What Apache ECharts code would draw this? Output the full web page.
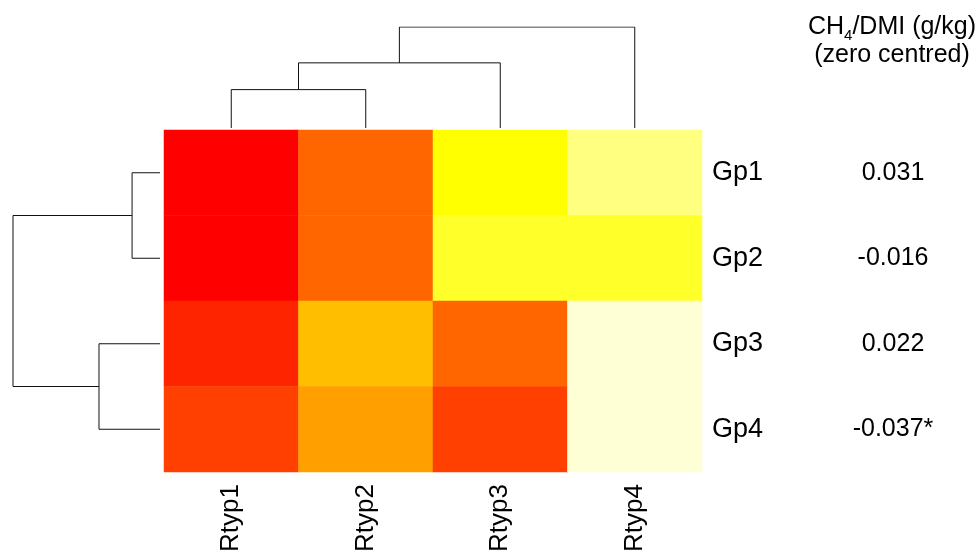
<!DOCTYPE html>
<html>
<head>
<meta charset="utf-8">
<script src="https://cdn.jsdelivr.net/npm/echarts@6/dist/echarts.min.js"></script>
<style>
  html,body{margin:0;padding:0;background:#fff;}
  #chart{width:979px;height:556px;}
</style>
</head>
<body>
<div id="chart"></div>
<script>
// columns / rows of the heat map
var colNames=["Rtyp1","Rtyp2","Rtyp3","Rtyp4"];
var rowNames=["Gp1","Gp2","Gp3","Gp4"];
var rowEffects=["0.031","-0.016","0.022","-0.037*"];

// colour bin (0 = red ... 11 = pale yellow)
var gp1=[0,3,8,10];
var gp2=[0,3,9,9];
var gp3=[1,6,3,11];
var gp4=[2,5,2,11];

// heat.colors(12)
var palette=["#FF0000","#FF2400","#FF4000","#FF6600","#FF8000","#FF9F00",
             "#FFBF00","#FFDF00","#FFFF00","#FFFF2A","#FFFF80","#FFFFD5"];

// dendrograms, hclust style: negative = leaf, positive = earlier merge; last = height
var colMerge=[[-1,-2,0.38],[1,-3,0.645],[2,-4,1.0]];
var rowMerge=[[-1,-2,0.19],[-3,-4,0.415],[1,2,1.0]];

var font="Liberation Sans, Arial, sans-serif";

var cells=[];
[gp1,gp2,gp3,gp4].forEach(function(r,j){
  r.forEach(function(v,i){cells.push([i,j,v]);});
});

// build U shaped links of a dendrogram
function treeSeries(merge,xi,yi,vertical){
  var nodes=[];
  var out=[];
  function node(k){
    if(k<0) return {p:-k,h:0};
    return nodes[k-1];
  }
  merge.forEach(function(m){
    var a=node(m[0]),b=node(m[1]),h=m[2];
    var pts=[[a.p,a.h],[a.p,h],[b.p,h],[b.p,b.h]];
    if(!vertical) pts=pts.map(function(q){return [q[1],q[0]];});
    out.push({
      type:"line",xAxisIndex:xi,yAxisIndex:yi,data:pts,
      symbol:"none",silent:true,animation:false,
      lineStyle:{color:"#111",width:1}
    });
    nodes.push({p:(a.p+b.p)/2,h:h});
  });
  return out;
}

var chart=echarts.init(document.getElementById("chart"));

var option={
  backgroundColor:"#fff",
  animation:false,
  title:{
    left:887,top:8,textAlign:"center",
    text:"{n|CH}{s|4}{n|/DMI (g/kg)}\n{n|(zero centred)}",
    textStyle:{
      fontWeight:"normal",
      rich:{
        n:{fontFamily:font,fontSize:25,fontWeight:"normal",color:"#000",lineHeight:28},
        s:{fontFamily:font,fontSize:15,fontWeight:"normal",color:"#000",lineHeight:14,verticalAlign:"bottom",padding:[0,0,-2,0]}
      }
    }
  },
  grid:[
    {left:164,top:130,width:538,height:342},
    {left:164,top:27,width:538,height:101},
    {left:13,top:130,width:147,height:342}
  ],
  xAxis:[
    {type:"category",gridIndex:0,data:colNames,
     axisLine:{show:false},axisTick:{show:false},splitLine:{show:false},
     axisLabel:{rotate:90,margin:12,fontSize:26,fontFamily:font,color:"#000"}},
    {type:"value",gridIndex:1,min:0.5,max:4.5,show:false},
    {type:"value",gridIndex:2,min:0,max:1,inverse:true,show:false}
  ],
  yAxis:[
    {type:"category",gridIndex:0,data:rowNames,inverse:true,position:"right",
     axisLine:{show:false},axisTick:{show:false},splitLine:{show:false},
     axisLabel:{margin:10,fontSize:27,fontFamily:font,color:"#000"}},
    {type:"category",gridIndex:0,data:rowEffects,inverse:true,position:"right",
     axisLine:{show:false},axisTick:{show:false},splitLine:{show:false},
     axisLabel:{margin:191,align:"center",fontSize:25,fontFamily:font,color:"#000"}},
    {type:"value",gridIndex:1,min:0,max:1,show:false},
    {type:"value",gridIndex:2,min:0.5,max:4.5,inverse:true,show:false}
  ],
  visualMap:{
    type:"piecewise",show:false,seriesIndex:0,dimension:2,
    pieces:palette.map(function(c,i){return {value:i,color:c};})
  },
  series:[
    {type:"heatmap",xAxisIndex:0,yAxisIndex:0,data:cells,silent:true,
     itemStyle:{borderWidth:0}}
  ].concat(treeSeries(colMerge,1,2,true)).concat(treeSeries(rowMerge,2,3,false))
};

chart.setOption(option);
</script>
</body>
</html>
